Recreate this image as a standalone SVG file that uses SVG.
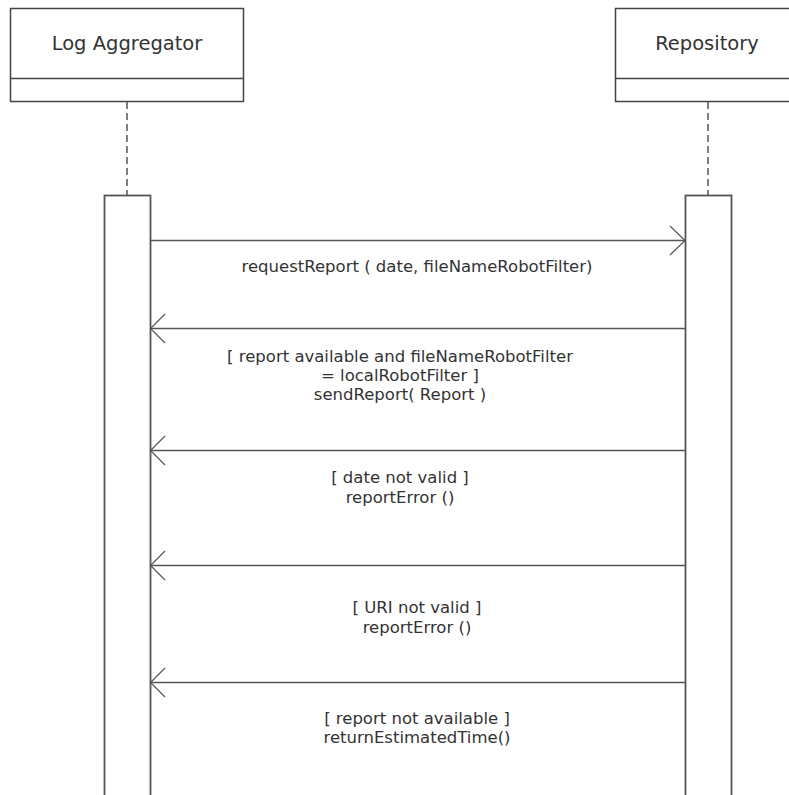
<svg xmlns="http://www.w3.org/2000/svg" width="789" height="795" viewBox="0 0 789 795">
<style>
.box{fill:#fff;stroke:#444;stroke-width:1.5}
.life{stroke:#555;stroke-width:1.5;stroke-dasharray:7,4;fill:none}
.act{fill:#fff;stroke:#555;stroke-width:1.8}
.msg{stroke:#555;stroke-width:1.5;fill:none}
.head{stroke:#555;stroke-width:1.2;fill:none}
.t{font-family:"DejaVu Sans",Verdana,sans-serif;font-size:16.5px;fill:#333;text-anchor:middle}
.h{font-family:"DejaVu Sans",Verdana,sans-serif;font-size:19.5px;fill:#333;text-anchor:middle}
</style>
<rect width="789" height="795" fill="#fff"/>
<g id="log-aggregator">
<rect class="box" x="10.5" y="8.5" width="233" height="93"/>
<line class="box" x1="10.5" y1="78.5" x2="243.5" y2="78.5"/>
<text class="h" x="127" y="50">Log Aggregator</text>
<line class="life" x1="127" y1="102" x2="127" y2="195"/>
<rect class="act" x="104.5" y="195.5" width="46" height="610"/>
</g>
<g id="repository">
<rect class="box" x="615.5" y="8.5" width="185" height="93"/>
<line class="box" x1="615.5" y1="78.5" x2="800" y2="78.5"/>
<text class="h" x="707" y="50">Repository</text>
<line class="life" x1="708" y1="102" x2="708" y2="195"/>
<rect class="act" x="685.5" y="195.5" width="46" height="610"/>
</g>
<g id="connectors">
<line class="msg" x1="150.5" y1="240.5" x2="685" y2="240.5"/>
<polyline class="head" points="670,226 685,240.5 670,255"/>
<line class="msg" x1="150.5" y1="328.5" x2="685" y2="328.5"/>
<polyline class="head" points="165,314 150.5,328.5 165,343"/>
<line class="msg" x1="150.5" y1="450.5" x2="685" y2="450.5"/>
<polyline class="head" points="165,436 150.5,450.5 165,465"/>
<line class="msg" x1="150.5" y1="565.5" x2="685" y2="565.5"/>
<polyline class="head" points="165,551 150.5,565.5 165,580"/>
<line class="msg" x1="150.5" y1="682.5" x2="685" y2="682.5"/>
<polyline class="head" points="165,668 150.5,682.5 165,697"/>
</g>
<g id="labels">
<text class="t" x="417" y="272">requestReport ( date, fileNameRobotFilter)</text>
<text class="t" x="400" y="362">[ report available and fileNameRobotFilter</text>
<text class="t" x="400" y="381">= localRobotFilter ]</text>
<text class="t" x="400" y="400">sendReport( Report )</text>
<text class="t" x="400" y="483">[ date not valid ]</text>
<text class="t" x="400" y="503">reportError ()</text>
<text class="t" x="417" y="613">[ URI not valid ]</text>
<text class="t" x="417" y="633">reportError ()</text>
<text class="t" x="417" y="724">[ report not available ]</text>
<text class="t" x="417" y="743">returnEstimatedTime()</text>
</g>
</svg>
